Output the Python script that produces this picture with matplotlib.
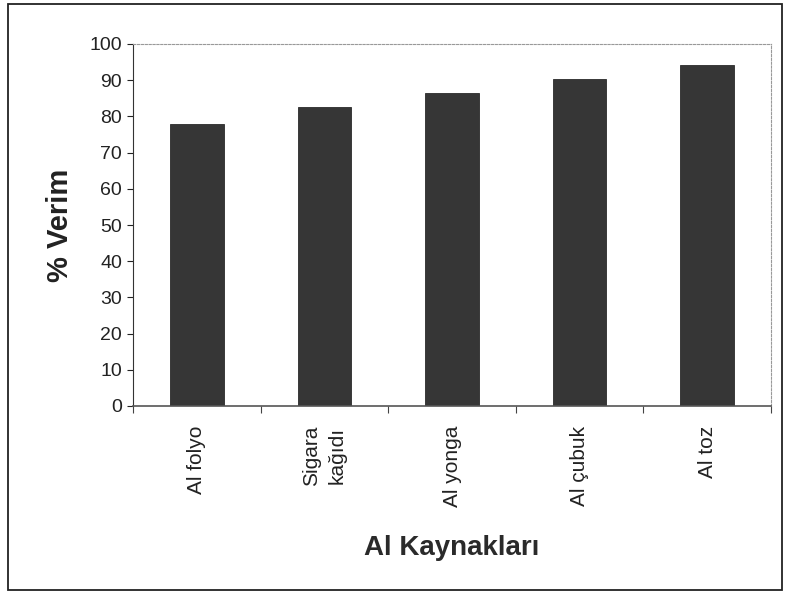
import matplotlib.pyplot as plt
from matplotlib.patches import Rectangle

categories = ['Al folyo', 'Sigara\nkağıdı', 'Al yonga', 'Al çubuk', 'Al toz']
verim = [78.0, 82.5, 86.5, 90.3, 94.2]
yticks = [0, 10, 20, 30, 40, 50, 60, 70, 80, 90, 100]

plt.rcParams['font.family'] = ['Liberation Sans', 'DejaVu Sans']

fig = plt.figure(figsize=(7.89, 5.94), dpi=100)
fig.patch.set_facecolor('white')

# outer frame around the whole chart
fig.patches.append(Rectangle((8 / 789, 4 / 594), 774 / 789, 586 / 594,
                             transform=fig.transFigure, fill=False,
                             edgecolor='#222222', linewidth=1.3))

ax = fig.add_axes([133 / 789, 1 - 406 / 594, 638 / 789, 362 / 594])
x = range(len(categories))
ax.bar(x, verim, width=0.42, color='#363636', edgecolor='#2a2a2a', linewidth=0.6)

ax.set_xlim(-0.5, len(categories) - 0.5)
ax.set_ylim(0, 100)
ax.set_yticks(yticks)
ax.tick_params(axis='y', direction='out', length=4, labelsize=14, colors='#222222', pad=4)

# x ticks sit between the categories, labels at the centres
ax.set_xticks([i - 0.5 for i in range(len(categories) + 1)])
ax.set_xticklabels([])
ax.set_xticks(list(x), minor=True)
ax.set_xticklabels(categories, minor=True, rotation=90, fontsize=15, color='#222222',
                   linespacing=1.45, ha='center', va='top')
ax.tick_params(axis='x', which='major', direction='out', length=5, color='#444444')
ax.tick_params(axis='x', which='minor', length=0, pad=14)

for side in ['top', 'right']:
    ax.spines[side].set_color('#999999')
    ax.spines[side].set_linestyle((0, (2, 1.5)))
    ax.spines[side].set_linewidth(0.8)
ax.spines['left'].set_color('#333333')
ax.spines['bottom'].set_color('#555555')
ax.spines['bottom'].set_linewidth(1.2)

ax.set_ylabel('% Verim', fontsize=21, fontweight='bold', color='#222222', labelpad=11)
ax.set_xlabel('Al Kaynakları', fontsize=20, fontweight='bold', color='#2a2a2a', labelpad=20)

fig.savefig('out.png', dpi=100)
